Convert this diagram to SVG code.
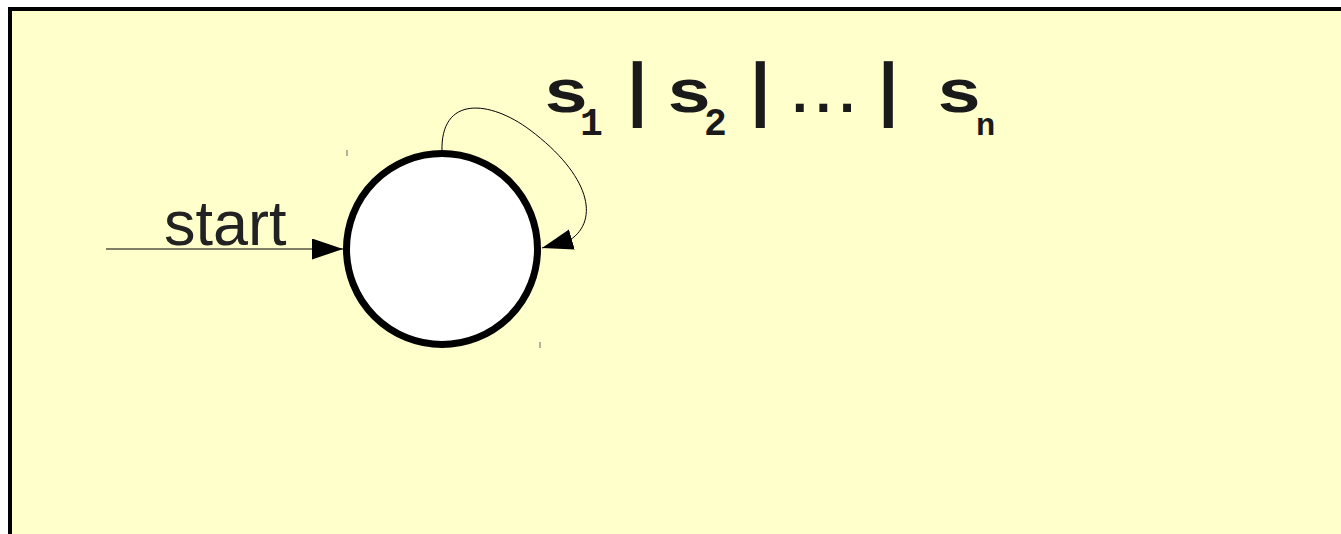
<svg xmlns="http://www.w3.org/2000/svg" width="1341" height="534" viewBox="0 0 1341 534">
<style>
.lbl{font-family:"Liberation Mono",monospace;font-weight:bold;fill:#1a1a1a}
.start{font-family:"Liberation Sans",Arial,sans-serif;font-size:63px;fill:#222}
.edge{fill:none;stroke:#000;stroke-width:1}
</style>
<defs>
<marker id="ah" markerWidth="31" markerHeight="21" refX="31" refY="10.5" orient="auto" markerUnits="userSpaceOnUse">
<path d="M0,0 L31,10.5 L0,21 Z" fill="#000"/>
</marker>
</defs>
<rect x="0" y="0" width="1341" height="534" fill="#fff"/>
<rect x="10" y="9" width="1345" height="540" fill="#ffffcc" stroke="#000" stroke-width="4"/>
<g id="connectors">
<path class="edge" d="M106,249 L343,249" marker-end="url(#ah)"/>
<path class="edge" d="M442,152 C440,95 490,100 530,130 C590,175 600,220 570,240 L542,248" marker-end="url(#ah)"/>
</g>
<g id="state">
<circle cx="442" cy="249" r="95.5" fill="#fff" stroke="#000" stroke-width="7"/>
</g>
<g id="marks" stroke="#666" stroke-width="1">
<line x1="347" y1="150" x2="347" y2="156"/>
<line x1="540" y1="342" x2="540" y2="348"/>
</g>
<g id="labels">
<text class="start" x="164" y="245">start</text>
<text class="lbl" font-size="62" x="543" y="112" textLength="46" lengthAdjust="spacingAndGlyphs">s</text>
<text class="lbl" font-size="38" x="580" y="135">1</text>
<text class="lbl" font-size="71" x="616" y="112">|</text>
<text class="lbl" font-size="62" x="666" y="112" textLength="46" lengthAdjust="spacingAndGlyphs">s</text>
<text class="lbl" font-size="38" x="704" y="135">2</text>
<text class="lbl" font-size="71" x="739" y="112">|</text>
<text class="lbl" font-size="56" x="783" y="112" letter-spacing="-10">...</text>
<text class="lbl" font-size="71" x="867" y="112">|</text>
<text class="lbl" font-size="62" x="936" y="112" textLength="46" lengthAdjust="spacingAndGlyphs">s</text>
<text class="lbl" font-size="32" x="976" y="135">n</text>
</g>
</svg>
